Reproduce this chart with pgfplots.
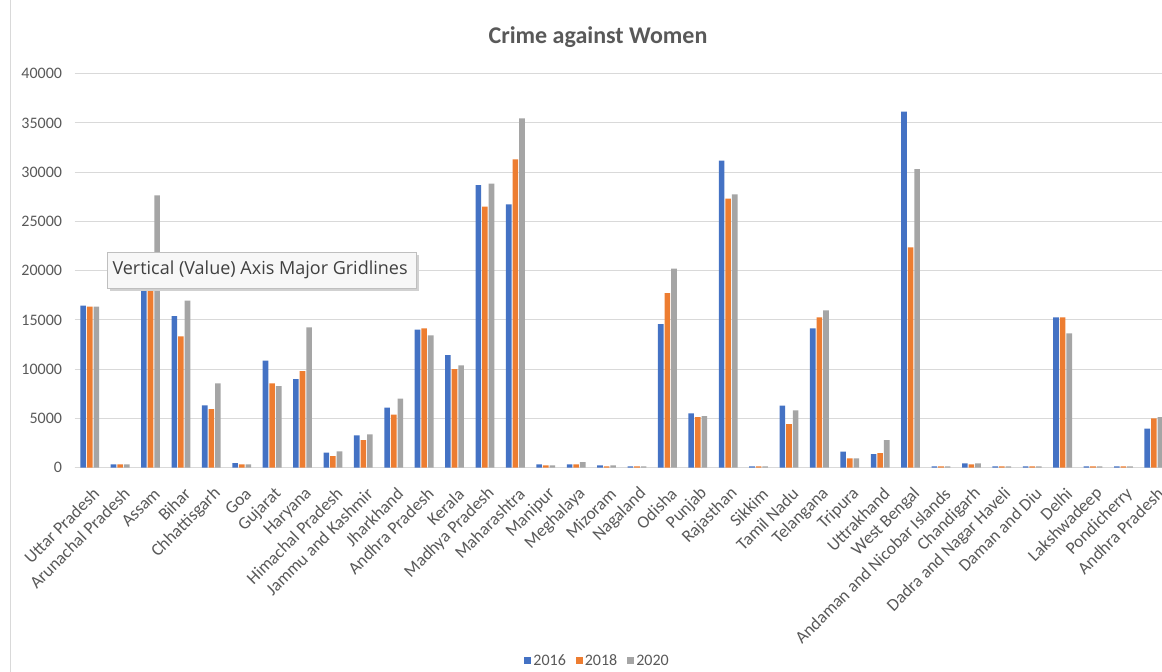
\documentclass[border=0pt]{standalone}
\usepackage{pgfplots}
\pgfplotsset{compat=1.18}
\usepackage{pgfplotstable}
\usepackage{fontspec}
\setmainfont{Carlito}
\newfontfamily\tipfont{Open Sans}
\definecolor{cblue}{HTML}{4472C4}
\definecolor{corange}{HTML}{ED7D31}
\definecolor{cgray}{HTML}{A5A5A5}
\definecolor{txt}{HTML}{595959}
\definecolor{grid}{HTML}{D9D9D9}
\pgfplotstableread{
x y16 y18 y20
0 16446 16345 16345
1 350 350 338
2 19500 19000 27648
3 15397 13333 16954
4 6328 5956 8562
5 474 338 338
6 10863 8562 8291
7 9001 9814 14247
8 1523 1184 1658
9 3282 2809 3384
10 6091 5381 7005
11 14010 14145 13435
12 11438 10017 10389
13 28696 26497 28832
14 26734 31302 35464
15 338 237 237
16 338 338 575
17 237 135 237
18 135 135 135
19 14585 17732 20203
20 5516 5144 5245
21 31167 27309 27749
22 135 135 135
23 6294 4433 5820
24 14145 15262 15972
25 1624 948 948
26 1387 1489 2809
27 36141 22368 30320
28 135 135 135
29 440 338 440
30 135 135 135
31 135 135 135
32 15262 15262 13638
33 135 135 135
34 135 135 135
35 3959 5008 5144
}\datatable
\begin{document}
\begin{tikzpicture}[x=1pt,y=1pt]
\fill[white] (0,0) rectangle (1162,672);
\draw[grid,line width=1pt] (10,0) -- (10,672);
\begin{axis}[
  at={(74.5pt,204.3pt)}, anchor=south west,
  scale only axis, width=1087.5pt, height=394pt,
  xmin=-0.5, xmax=35.27, ymin=0, ymax=40000,
  ybar, bar width=5.6pt,
  axis x line*=bottom, axis y line*=left,
  y axis line style={draw=none},
  x axis line style={draw=grid,line width=1pt},
  ymajorgrids, major grid style={draw=grid,line width=1pt},
  ytick={0,5000,...,40000},
  major tick length=0pt,
  scaled y ticks=false,
  /pgf/number format/assume math mode=true,
  /pgf/number format/1000 sep={},
  yticklabel style={font=\fontsize{16}{19}\selectfont\color{txt}, xshift=-9pt},
  xtick={0,...,35},
  xticklabels={Uttar Pradesh,Arunachal Pradesh,Assam,Bihar,Chhattisgarh,Goa,Gujarat,Haryana,Himachal Pradesh,Jammu and Kashmir,Jharkhand,Andhra Pradesh,Kerala,Madhya Pradesh,Maharashtra,Manipur,Meghalaya,Mizoram,Nagaland,Odisha,Punjab,Rajasthan,Sikkim,Tamil Nadu,Telangana,Tripura,Uttrakhand,West Bengal,Andaman and Nicobar Islands,Chandigarh,Dadra and Nagar Haveli,Daman and Diu,Delhi,Lakshwadeep,Pondicherry,Andhra Pradesh},
  xticklabel style={font=\fontsize{17.5}{20}\selectfont\color{txt}, xshift=9pt, yshift=-21pt, rotate=45, anchor=east},
  legend style={at={(0.481,-0.49)}, anchor=center, draw=none, fill=none,
    legend columns=3, font=\fontsize{16}{19}\selectfont\color{txt},
    /tikz/every even column/.append style={column sep=8pt}},
  legend image code/.code={\fill[#1,draw=none] (2pt,-3.5pt) rectangle (9pt,3.5pt);},
  clip=true,
]
\addplot[fill=cblue, draw=none, bar shift=-6.6pt] table[x=x,y=y16]{\datatable};
\addplot[fill=corange, draw=none, bar shift=0pt] table[x=x,y=y18]{\datatable};
\addplot[fill=cgray, draw=none, bar shift=6.6pt] table[x=x,y=y20]{\datatable};
\legend{2016,2018,2020}
\end{axis}
\node[font=\fontsize{24}{28}\selectfont\bfseries, text=txt] at (598,635) {Crime against Women};
% tooltip
\fill[black!18] (110,381) rectangle (419,417);
\fill[white!97!black] (107,384) rectangle (416,420);
\draw[black!25,line width=0.6pt] (107,384) rectangle (416,420);
\node[font=\tipfont\fontsize{18}{21}\selectfont, text=black!75, anchor=west] at (109,402) {Vertical (Value) Axis Major Gridlines};
\pgfresetboundingbox
\path (0,0) rectangle (1162,672);
\end{tikzpicture}
\end{document}
